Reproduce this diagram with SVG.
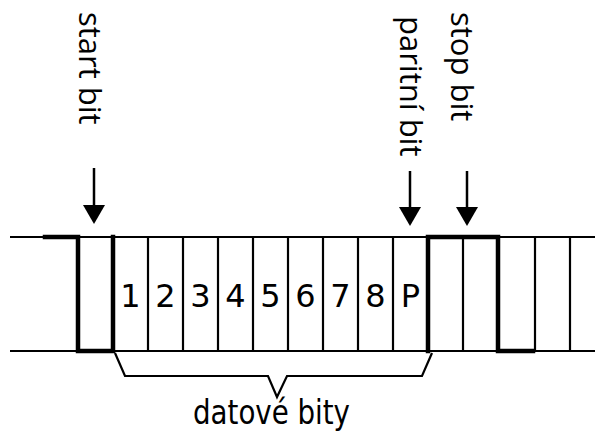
<svg xmlns="http://www.w3.org/2000/svg" width="595" height="432" viewBox="0 0 595 432">
  <style>
    .thin { stroke: #000; stroke-width: 2.2; fill: none; }
    .thick { stroke: #000; stroke-width: 4.5; fill: none; stroke-linecap: square; }
    .shaft { stroke: #000; stroke-width: 2.5; }
    .head { fill: #000; }
    .label { font-family: "Open Sans", "Liberation Sans", sans-serif; font-size: 31px; fill: #000; }
    .num { font-family: "DejaVu Sans", sans-serif; font-size: 32px; fill: #000; text-anchor: middle; }
    .caption { font-family: "DejaVu Sans Condensed", "DejaVu Sans", sans-serif; font-size: 33px; fill: #000; }
  </style>

  <!-- signal frame: idle line, cells and bit boundaries -->
  <g id="frame">
    <line class="thin" x1="10" y1="237" x2="595" y2="237"/>
    <line class="thin" x1="10" y1="351" x2="595" y2="351"/>
    <!-- thin cell separators -->
    <line class="thin" x1="148" y1="237" x2="148" y2="351"/>
    <line class="thin" x1="183" y1="237" x2="183" y2="351"/>
    <line class="thin" x1="218" y1="237" x2="218" y2="351"/>
    <line class="thin" x1="253" y1="237" x2="253" y2="351"/>
    <line class="thin" x1="288" y1="237" x2="288" y2="351"/>
    <line class="thin" x1="323" y1="237" x2="323" y2="351"/>
    <line class="thin" x1="358" y1="237" x2="358" y2="351"/>
    <line class="thin" x1="393" y1="237" x2="393" y2="351"/>
    <line class="thin" x1="463" y1="237" x2="463" y2="351"/>
    <line class="thin" x1="535" y1="237" x2="535" y2="351"/>
    <line class="thin" x1="570" y1="237" x2="570" y2="351"/>
    <!-- signal level (thick trace) -->
    <polyline class="thick" points="45,237 78,237 78,351 113,351 113,237"/>
    <polyline class="thick" points="428,351 428,237 498,237 498,351 533,351"/>
  </g>

  <!-- data bit numbers -->
  <g id="bits">
    <text class="num" x="130.5" y="307">1</text>
    <text class="num" x="165.5" y="307">2</text>
    <text class="num" x="200.5" y="307">3</text>
    <text class="num" x="235.5" y="307">4</text>
    <text class="num" x="270.5" y="307">5</text>
    <text class="num" x="305.5" y="307">6</text>
    <text class="num" x="340.5" y="307">7</text>
    <text class="num" x="375.5" y="307">8</text>
    <text class="num" x="410.5" y="307">P</text>
  </g>

  <!-- vertical labels -->
  <g id="start-label">
    <text class="label" transform="translate(79,12) rotate(90)">start bit</text>
  </g>
  <g id="parity-label">
    <text class="label" transform="translate(400,16) rotate(90)">paritní bit</text>
  </g>
  <g id="stop-label">
    <text class="label" transform="translate(451,12) rotate(90)">stop bit</text>
  </g>

  <!-- pointer arrows -->
  <g id="connectors">
    <line class="shaft" x1="94" y1="168" x2="94" y2="208"/>
    <polygon class="head" points="83,205 105,205 94,224"/>
    <line class="shaft" x1="410" y1="171" x2="410" y2="209"/>
    <polygon class="head" points="399,207 421,207 410,226"/>
    <line class="shaft" x1="467" y1="171" x2="467" y2="209"/>
    <polygon class="head" points="456,207 478,207 467,226"/>
  </g>

  <!-- brace under the data bits -->
  <g id="data-brace">
    <polyline class="thin" points="115,353 125,376 268,376 277,397 287,376 422,376 432,353"/>
    <text class="caption" x="193" y="424" textLength="157" lengthAdjust="spacingAndGlyphs">datové bity</text>
  </g>
</svg>
